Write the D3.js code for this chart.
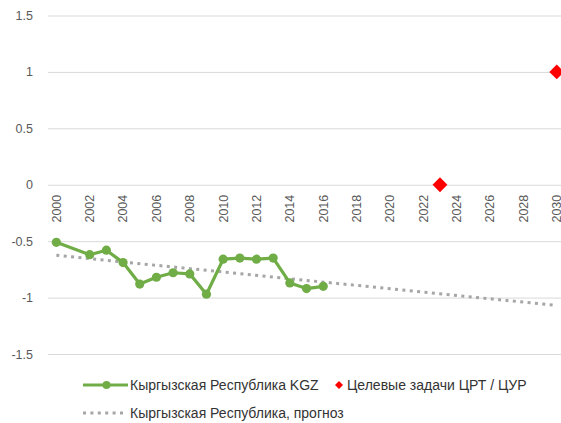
<!DOCTYPE html>
<html>
<head>
<meta charset="utf-8">
<script src="https://cdn.jsdelivr.net/npm/d3@7"></script>
<style>
  html, body { margin: 0; padding: 0; background: #fff; }
  svg text { font-family: "Liberation Sans", "DejaVu Sans", sans-serif; }
</style>
</head>
<body>
<svg id="chart" width="561" height="423"></svg>
<script>
// Years on the category axis
const years = d3.range(2000, 2031);
const yearTicks = d3.range(2000, 2031, 2);

// Observed series (2001 has no value)
const obsYears  = [2000, 2001, 2002, 2003, 2004, 2005, 2006, 2007, 2008, 2009, 2010, 2011, 2012, 2013, 2014, 2015, 2016];
const obsValues = [-0.51, null, -0.62, -0.58, -0.69, -0.88, -0.82, -0.78, -0.79, -0.97, -0.66, -0.65, -0.66, -0.65, -0.87, -0.92, -0.90];

// Target values
const targetYears  = [2023, 2030];
const targetValues = [0, 1];

// Forecast trend endpoints
const trendYears  = [2000, 2030];
const trendValues = [-0.625, -1.07];

const yTicks = [-1.5, -1, -0.5, 0, 0.5, 1, 1.5];

const seriesNames = ["Кыргызская Республика KGZ", "Целевые задачи ЦРТ / ЦУР", "Кыргызская Республика, прогноз"];

const svg = d3.select("#chart");
const plotLeft = 48, bandW = 16.68;
const plotRight = plotLeft + bandW * years.length;
const plotTop = 15.5, plotBottom = 354;

const x = d3.scaleBand().domain(years).range([plotLeft, plotRight]);
const xc = yr => x(yr) + x.bandwidth() / 2;
const y = d3.scaleLinear().domain([-1.5, 1.5]).range([plotBottom, plotTop]);

// Horizontal gridlines and value labels
const yAxis = d3.axisLeft(y).tickValues(yTicks).tickSize(-(plotRight - plotLeft)).tickFormat(d => d);
const gy = svg.append("g").attr("transform", `translate(${plotLeft},0)`).call(yAxis);
gy.select(".domain").remove();
gy.selectAll(".tick line").attr("stroke", "#d9d9d9").attr("stroke-width", 1);
gy.selectAll(".tick text").attr("x", -15).attr("fill", "#595959").style("font-size", "12.5px");

// Year labels sitting on the zero line, rotated
const xAxis = d3.axisBottom(x).tickValues(yearTicks).tickSize(0);
const gx = svg.append("g").attr("transform", `translate(0,${y(0)})`).call(xAxis);
gx.select(".domain").remove();
gx.selectAll(".tick text")
  .attr("transform", "rotate(-90)")
  .attr("x", -10).attr("y", 0).attr("dy", "0.35em")
  .attr("text-anchor", "end")
  .attr("fill", "#595959").style("font-size", "12.5px");

// Forecast trend (dotted)
const trend = trendYears.map((yr, i) => [yr, trendValues[i]]);
svg.append("path")
  .datum(trend)
  .attr("fill", "none").attr("stroke", "#a6a6a6").attr("stroke-width", 3)
  .attr("stroke-dasharray", "3,4.4")
  .attr("d", d3.line().x(d => xc(d[0])).y(d => y(d[1])));

// Observed series
const obs = obsYears.map((yr, i) => [yr, obsValues[i]]).filter(d => d[1] !== null);
const green = "#70ad47";
svg.append("path")
  .datum(obs)
  .attr("fill", "none").attr("stroke", green).attr("stroke-width", 3.2)
  .attr("stroke-linejoin", "round")
  .attr("d", d3.line().x(d => xc(d[0])).y(d => y(d[1])));
svg.selectAll("circle.obs").data(obs).join("circle")
  .attr("class", "obs")
  .attr("cx", d => xc(d[0])).attr("cy", d => y(d[1])).attr("r", 4.6)
  .attr("fill", green);

// Targets (red diamonds)
const diamond = d3.symbol().type(d3.symbolSquare).size(110);
svg.selectAll("path.target").data(targetYears.map((yr, i) => [yr, targetValues[i]])).join("path")
  .attr("class", "target")
  .attr("transform", d => `translate(${xc(d[0])},${y(d[1])}) rotate(45)`)
  .attr("d", diamond)
  .attr("fill", "#ff0000");

// Legend
const lg = svg.append("g").style("font-size", "14px");
const row1 = 385, row2 = 413;
lg.append("line").attr("x1", 83).attr("x2", 128).attr("y1", row1).attr("y2", row1)
  .attr("stroke", green).attr("stroke-width", 3.2);
lg.append("circle").attr("cx", 106.5).attr("cy", row1).attr("r", 4).attr("fill", green);
lg.append("text").attr("x", 130).attr("y", row1).attr("dy", "0.35em").attr("fill", "#333").text(seriesNames[0]);

lg.append("path").attr("transform", `translate(339,${row1}) rotate(45)`)
  .attr("d", d3.symbol().type(d3.symbolSquare).size(32)).attr("fill", "#ff0000");
lg.append("text").attr("x", 347).attr("y", row1).attr("dy", "0.35em").attr("fill", "#333").text(seriesNames[1]);

lg.append("line").attr("x1", 83).attr("x2", 124).attr("y1", row2).attr("y2", row2)
  .attr("stroke", "#a6a6a6").attr("stroke-width", 3).attr("stroke-dasharray", "3,4.4");
lg.append("text").attr("x", 130).attr("y", row2).attr("dy", "0.35em").attr("fill", "#333").text(seriesNames[2]);
</script>
</body>
</html>
